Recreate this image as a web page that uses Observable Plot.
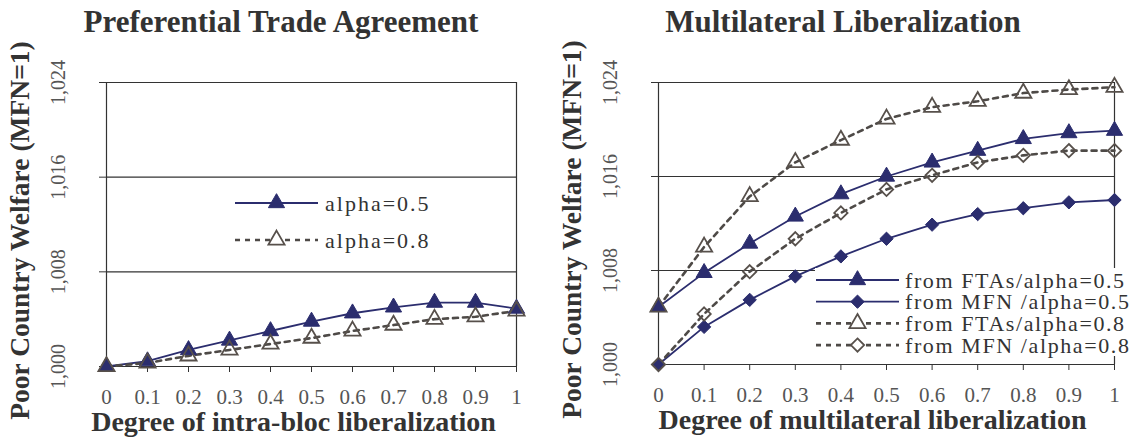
<!DOCTYPE html>
<html><head><meta charset="utf-8">
<script src="https://cdn.jsdelivr.net/npm/d3@7"></script>
<script src="https://cdn.jsdelivr.net/npm/@observablehq/plot@0.6"></script>
<style>
body{margin:0;background:#fff;}
#root{position:relative;width:1130px;height:442px;overflow:hidden;font-family:"Liberation Serif",serif;}
.title{position:absolute;top:4px;font-weight:bold;font-size:31px;color:#333;text-align:center;line-height:36px;white-space:nowrap;}
.panel{position:absolute;top:50px;}
.legend{position:absolute;overflow:visible;}
</style></head><body>
<div id="root">
  <div class="title" style="left:0;width:562px">Preferential Trade Agreement</div>
  <div class="title" style="left:565px;width:556px">Multilateral Liberalization</div>
  <div class="panel" id="p1" style="left:0"></div>
  <div class="panel" id="p2" style="left:565px"></div>
</div>
<script>
// ---- data ----
const xValues = [0, 0.1, 0.2, 0.3, 0.4, 0.5, 0.6, 0.7, 0.8, 0.9, 1];
const xTickLabels = ["0", "0.1", "0.2", "0.3", "0.4", "0.5", "0.6", "0.7", "0.8", "0.9", "1"];
const yTicks = [1.000, 1.008, 1.016, 1.024];
const yTickLabels = ["1,000", "1,008", "1,016", "1,024"];
const yLabel = "Poor Country Welfare (MFN=1)";

// Left panel: Preferential Trade Agreement
const ptaAlpha05 = [1.000, 1.00045, 1.0014, 1.0022, 1.0030, 1.0038, 1.0045, 1.0050, 1.0054, 1.0054, 1.0049];
const ptaAlpha08 = [1.000, 1.0003, 1.0009, 1.0014, 1.0019, 1.0024, 1.0030, 1.0035, 1.0040, 1.0042, 1.0047];

// Right panel: Multilateral Liberalization
const mlFtaAlpha05 = [1.0049, 1.0078, 1.0103, 1.0126, 1.0145, 1.0160, 1.0172, 1.0182, 1.0192, 1.0197, 1.0199];
const mlMfnAlpha05 = [1.000, 1.0032, 1.0055, 1.0075, 1.0092, 1.0107, 1.0119, 1.0128, 1.0133, 1.0138, 1.0140];
const mlFtaAlpha08 = [1.0049, 1.0100, 1.0143, 1.0172, 1.0191, 1.0209, 1.0219, 1.0224, 1.0231, 1.0234, 1.0236];
const mlMfnAlpha08 = [1.000, 1.0043, 1.0079, 1.0107, 1.0129, 1.0149, 1.0161, 1.0172, 1.0178, 1.0182, 1.0182];

// ---- styles ----
const NAVY = "#2b2d6e", GREYM = "#57504b", GREYL = "#4e4a47", GRID = "#333", TICKTXT = "#555", LABEL = "#333";
const FONT = "Liberation Serif";
const styles = {
  solidTri:  {symbol: "triangle", fill: NAVY, stroke: NAVY, dash: null, lineStroke: NAVY, lineWidth: 1.8, mStrokeWidth: 1},
  solidDia:  {symbol: "diamond2", fill: NAVY, stroke: NAVY, dash: null, lineStroke: NAVY, lineWidth: 1.8, mStrokeWidth: 1},
  openTri:   {symbol: "triangle", fill: "none", stroke: GREYM, dash: "5,5", lineStroke: GREYL, lineWidth: 2.6, mStrokeWidth: 1.8},
  openDia:   {symbol: "diamond2", fill: "none", stroke: GREYM, dash: "5,5", lineStroke: GREYL, lineWidth: 2.6, mStrokeWidth: 1.8}
};

const leftSeries = [
  {name: "alpha=0.5", values: ptaAlpha05, style: "solidTri"},
  {name: "alpha=0.8", values: ptaAlpha08, style: "openTri"}
];
const rightSeries = [
  {name: "from FTAs/alpha=0.5", values: mlFtaAlpha05, style: "solidTri"},
  {name: "from MFN /alpha=0.5", values: mlMfnAlpha05, style: "solidDia"},
  {name: "from FTAs/alpha=0.8", values: mlFtaAlpha08, style: "openTri"},
  {name: "from MFN /alpha=0.8", values: mlMfnAlpha08, style: "openDia"}
];

function buildPanel(series, xLabel, m, labelDx) {
  const marks = [
    Plot.ruleY(yTicks, {stroke: GRID, strokeWidth: 1.2}),
    Plot.ruleX([0, 1], {stroke: GRID, strokeWidth: 1.2}),
    Plot.axisY(yTicks, {
      tickSize: 7, tickRotate: -90, tickPadding: 35, stroke: GRID,
      tickFormat: d => yTickLabels[yTicks.indexOf(d)],
      fontSize: 20, fill: TICKTXT, fontFamily: FONT, label: null
    }),
    Plot.axisX(xValues, {
      tickSize: 6, tickPadding: 17, stroke: GRID,
      tickFormat: d => xTickLabels[xValues.indexOf(d)],
      fontSize: 21, fill: TICKTXT, fontFamily: FONT, label: null
    }),
    Plot.text([yLabel], {frameAnchor: "left", textAnchor: "middle", rotate: -90, dx: -86, dy: 6, fontSize: 27.5, fontWeight: "bold", fill: LABEL, fontFamily: FONT}),
    Plot.text([xLabel], {frameAnchor: "bottom", dx: labelDx, dy: 64, fontSize: 28, fontWeight: "bold", fill: LABEL, fontFamily: FONT})
  ];
  for (const s of series) {
    const st = styles[s.style];
    const data = xValues.map((x, i) => ({x, y: s.values[i]}));
    marks.push(Plot.line(data, {x: "x", y: "y", stroke: st.lineStroke, strokeWidth: st.lineWidth, strokeDasharray: st.dash}));
  }
  for (const s of series) {
    const st = styles[s.style];
    const data = xValues.map((x, i) => ({x, y: s.values[i]}));
    marks.push(Plot.dot(data, {x: "x", y: "y", symbol: st.symbol, r: 6, fill: st.fill, stroke: st.stroke, strokeWidth: st.mStrokeWidth}));
  }
  return Plot.plot({
    width: 565, height: 392,
    marginLeft: m.left, marginRight: m.right, marginTop: m.top, marginBottom: m.bottom,
    x: {domain: [0, 1]},
    y: {domain: [1.000, 1.024]},
    style: {fontFamily: FONT, background: "transparent", overflow: "visible"},
    marks
  });
}

document.getElementById("p1").appendChild(
  buildPanel(leftSeries, "Degree of intra-bloc liberalization", {left: 106, right: 49, top: 32, bottom: 76}, -18));
document.getElementById("p2").appendChild(
  buildPanel(rightSeries, "Degree of multilateral liberalization", {left: 93, right: 16, top: 32, bottom: 78}, -14));

// ---- legends (HTML-positioned SVG overlays) ----
function legend(series, box, opts) {
  const svg = d3.select("#root").append("svg").attr("class", "legend")
    .style("left", box.left + "px").style("top", box.top + "px")
    .attr("width", box.width).attr("height", box.height);
  if (opts.bg) svg.append("rect").attr("width", box.width).attr("height", box.height).attr("fill", "#fff");
  series.forEach((s, i) => {
    const st = styles[s.style];
    const y = opts.y0 + i * opts.dy;
    svg.append("line").attr("x1", opts.x1).attr("x2", opts.x2).attr("y1", y).attr("y2", y)
      .attr("stroke", st.lineStroke).attr("stroke-width", st.lineWidth)
      .attr("stroke-dasharray", st.dash);
    const sym = st.symbol === "triangle" ? d3.symbolTriangle : d3.symbolDiamond2;
    svg.append("path").attr("d", d3.symbol(sym, Math.PI * 36)())
      .attr("transform", `translate(${(opts.x1 + opts.x2) / 2},${y})`)
      .attr("fill", st.fill === "none" ? "#fff" : st.fill).attr("stroke", st.stroke).attr("stroke-width", st.mStrokeWidth);
    svg.append("text").attr("x", opts.tx).attr("y", y).attr("dy", "0.35em")
      .attr("font-family", FONT).attr("font-size", opts.fs).attr("letter-spacing", opts.ls)
      .attr("fill", "#333").text(s.name);
  });
}
legend(leftSeries, {left: 228, top: 185, width: 250, height: 75},
  {y0: 18, dy: 37, x1: 7, x2: 90, tx: 97, fs: 22, ls: "2px", bg: false});
legend(rightSeries, {left: 815, top: 268, width: 315, height: 88},
  {y0: 12, dy: 21.7, x1: 1, x2: 84, tx: 90, fs: 22, ls: "1.6px", bg: true});
</script>
</body></html>
